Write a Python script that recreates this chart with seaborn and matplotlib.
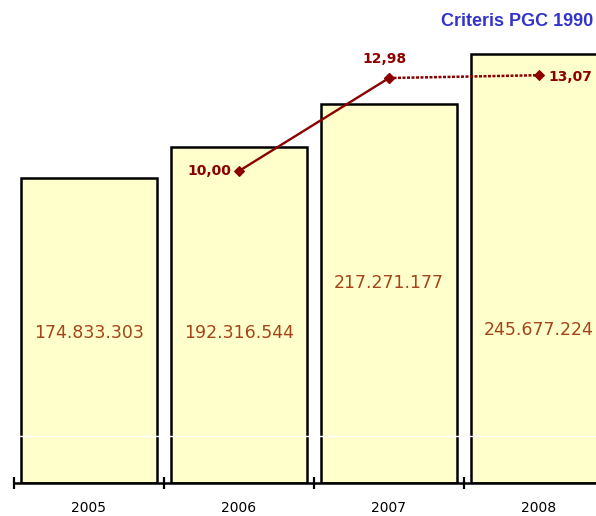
import matplotlib
matplotlib.use("Agg")
import matplotlib.pyplot as plt
import seaborn as sns
import pandas as pd

years = ["2005", "2006", "2007", "2008"]
amounts = [174833303, 192316544, 217271177, 245677224]
amount_labels = ["174.833.303", "192.316.544", "217.271.177", "245.677.224"]
ratio_years = ["2006", "2007", "2008"]
ratios = [10.00, 12.98, 13.07]
ratio_labels = ["10,00", "12,98", "13,07"]
title = "Criteris PGC 1990"

sns.set_style("white")
plt.rcParams['font.family'] = ['DejaVu Sans']

fig = plt.figure(figsize=(5.96, 5.16), dpi=100)
ax = fig.add_axes([14 / 596, 33 / 516, 600 / 596, 483 / 516])

df = pd.DataFrame({"year": years, "amount": amounts})
sns.barplot(data=df, x="year", y="amount", ax=ax, color="#FFFFCC",
            saturation=1, edgecolor="black", linewidth=1.8, width=0.91, zorder=2)
ax.set_ylim(0, 276.7e6)
ax.set_xlim(-0.5, 3.5)
ax.axhline(27e6, color="white", lw=1, zorder=3)

# bar value labels (vertical placement in axes fraction)
label_y = [0.3106, 0.3106, 0.414, 0.3168]
for i, lab in enumerate(amount_labels):
    ax.text(i, label_y[i], lab, transform=ax.get_xaxis_transform(),
            ha="center", va="center", fontsize=12.5, color="#A5441A", zorder=4)

# axis styling
for s in ["top", "right", "left"]:
    ax.spines[s].set_visible(False)
ax.spines["bottom"].set_linewidth(1.8)
ax.spines["bottom"].set_color("black")
ax.spines["bottom"].set_zorder(5)
ax.set_yticks([])
ax.set_xticks([-0.5, 0.5, 1.5, 2.5, 3.5])
ax.set_xticklabels([])
ax.set_xticks(range(len(years)), minor=True)
ax.set_xticklabels(years, minor=True, fontsize=10, color="black")
ax.tick_params(axis="x", which="major", bottom=True, direction="inout",
               length=9, width=1.6, color="black")
ax.tick_params(axis="x", which="minor", bottom=True, length=0, pad=13)
ax.set_xlabel("")
ax.set_ylabel("")

# secondary axis with ratio line
ax2 = ax.twinx()
xpos = [years.index(y) for y in ratio_years]
ldf = pd.DataFrame({"x": xpos, "r": ratios})
sns.lineplot(data=ldf.iloc[0:2], x="x", y="r", ax=ax2, color="#8B0000",
             lw=1.7, marker="D", markersize=5.5, markeredgecolor="#8B0000")
sns.lineplot(data=ldf.iloc[1:3], x="x", y="r", ax=ax2, color="#8B0000",
             lw=1.8, linestyle=(0, (1.2, 0.6)), marker="D", markersize=5.5,
             markeredgecolor="#8B0000")
ax2.set_ylim(0, 483 / 31.2)
ax2.set_xlim(-0.5, 3.5)
for s in ax2.spines.values():
    s.set_visible(False)
ax2.set_yticks([])
ax2.tick_params(axis="x", which="both", bottom=False, top=False, labelbottom=False)
ax2.set_xlabel("")
ax2.set_ylabel("")

offsets = [(-8, 0, "right", "center"), (-4, 12, "center", "bottom"), (9, -2, "left", "center")]
for (x, r, lab, (dx, dy, ha, va)) in zip(xpos, ratios, ratio_labels, offsets):
    ax2.annotate(lab, (x, r), xytext=(dx, dy), textcoords="offset pixels",
                 ha=ha, va=va, fontsize=10, fontweight="bold", color="#8B0000")

fig.text(593 / 596, 1 - 21 / 516, title, ha="right", va="center",
         fontsize=13, fontweight="bold", color="#3333CC", family="Liberation Sans")

fig.savefig("out.png", dpi=100)
